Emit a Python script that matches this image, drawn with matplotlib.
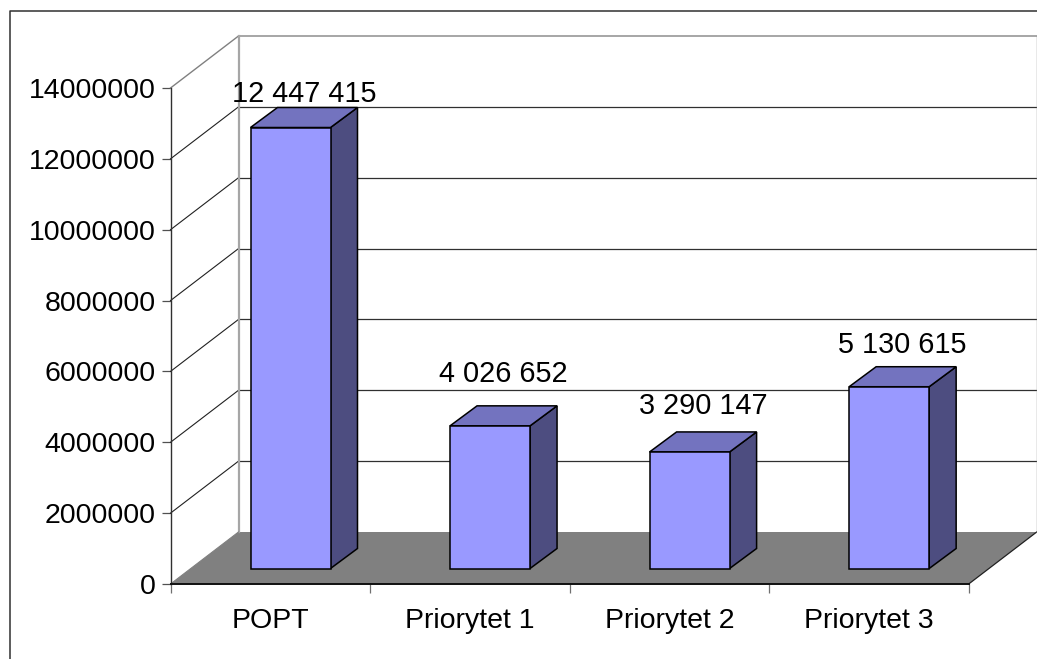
import matplotlib
matplotlib.use('Agg')
import matplotlib.pyplot as plt
from matplotlib.lines import Line2D
from matplotlib.patches import Polygon

plt.rcParams['font.family'] = ['Liberation Sans', 'DejaVu Sans']

# Datos
categories = ['POPT', 'Priorytet 1', 'Priorytet 2', 'Priorytet 3']
values = [12447415, 4026652, 3290147, 5130615]
y_ticks = [0, 2000000, 4000000, 6000000, 8000000, 10000000, 12000000, 14000000]

# Estilos (offsets de las etiquetas en puntos)
label_offsets = [10, 23, 18.5, 15.5]
front_color = '#9999FF'
top_color = '#7373BF'
side_color = '#4D4D80'
floor_color = '#808080'
wall_color = '#A6A6A6'
y_max = 14000000

W, H = 1037, 659
fig = plt.figure(figsize=(W / 100, H / 100), dpi=100)
ax = fig.add_axes([170.5 / W, (H - 584) / H, 798.2 / W, 496 / H])
ax.set_xlim(0, len(categories))
ax.set_ylim(0, y_max)

# Profundidad del efecto 3D en unidades de datos
depth_x = 68 / 199.55
depth_y = 52 / 496 * y_max
bar_left = 80 / 199.55
bar_width = 80 / 199.55
bar_dx = 27 / 199.55
bar_dy = 20 / 496 * y_max
bar_lift = 15.5 / 496 * y_max


def poly(points, color, edge='black', lw=1.1, z=3):
    ax.add_patch(Polygon(points, closed=True, facecolor=color, edgecolor=edge,
                         linewidth=lw, zorder=z, clip_on=False, joinstyle='miter'))


def line(xs, ys, color='#202020', lw=0.8, z=2):
    ax.add_line(Line2D(xs, ys, color=color, linewidth=lw, zorder=z, clip_on=False))


n = len(categories)

# Piso
poly([(0, 0), (n, 0), (n + depth_x, depth_y), (depth_x, depth_y)], floor_color, edge='none', z=1)
line([n, n + depth_x], [0, depth_y], color='#202020', lw=0.9, z=2)

# Lineas de la grilla y paredes
for tick in y_ticks[1:]:
    is_top = tick == y_max
    c = wall_color if is_top else '#303030'
    lw = 1.4 if is_top else 0.9
    line([0, depth_x], [tick, tick + depth_y], color='#808080' if is_top else '#202020', lw=1.0 if is_top else 0.8)
    line([depth_x, n + depth_x], [tick + depth_y, tick + depth_y], color=c, lw=lw)
line([depth_x, depth_x], [depth_y, y_max + depth_y], color=wall_color, lw=1.6)
line([n + depth_x, n + depth_x], [depth_y, y_max + depth_y], color='#909090', lw=1.0)
line([0, depth_x], [0, depth_y], color='#808080', lw=0.8)

# Barras
for i, v in enumerate(values):
    x0 = i + bar_left
    x1 = x0 + bar_width
    base = bar_lift
    top = bar_lift + v
    poly([(x1, base), (x1 + bar_dx, base + bar_dy), (x1 + bar_dx, top + bar_dy), (x1, top)], side_color)
    poly([(x0, top), (x1, top), (x1 + bar_dx, top + bar_dy), (x0 + bar_dx, top + bar_dy)], top_color)
    poly([(x0, base), (x1, base), (x1, top), (x0, top)], front_color)
    ax.annotate(f'{v:,}'.replace(',', ' '),
                xy=(x0 + bar_width / 2 + bar_dx / 2, top + bar_dy),
                xytext=(0, label_offsets[i]), textcoords='offset points',
                ha='center', va='center', fontsize=20.8, color='black', zorder=5,
                annotation_clip=False)

# Ejes
ax.patch.set_visible(False)
for s in ['top', 'right']:
    ax.spines[s].set_visible(False)
ax.spines['left'].set_color('#303030')
ax.spines['left'].set_linewidth(1.0)
ax.spines['bottom'].set_color('#101010')
ax.spines['bottom'].set_linewidth(1.4)
ax.spines['left'].set_zorder(4)
ax.spines['bottom'].set_zorder(4)

ax.set_yticks(y_ticks, labels=[str(t) for t in y_ticks])
ax.tick_params(axis='y', length=6.5, width=0.9, color='#505050', pad=4, labelsize=20.5)
ax.set_xticks(range(n + 1), labels=[''] * (n + 1))
ax.tick_params(axis='x', which='major', length=6.5, width=0.9, color='#707070')
ax.set_xticks([i + 0.5 for i in range(n)], labels=categories, minor=True)
ax.tick_params(axis='x', which='minor', length=0, pad=17, labelsize=20.5)

# Marco exterior del grafico
fig.add_artist(Line2D([9.5 / W, 9.5 / W, 1], [0, (H - 10.5) / H, (H - 10.5) / H],
                      color='#303030', linewidth=1.1, transform=fig.transFigure))

fig.savefig('out.png', dpi=100)
